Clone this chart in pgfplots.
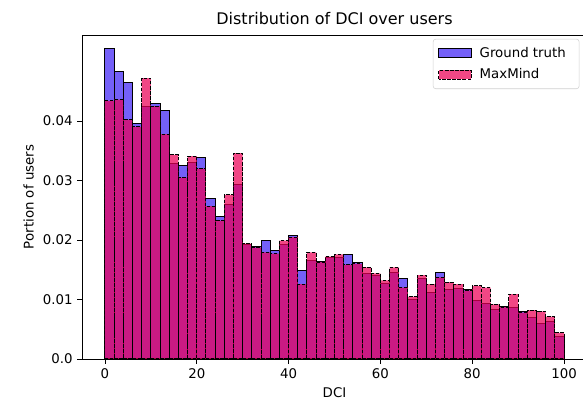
\documentclass[border=0pt]{standalone}
\usepackage{pgfplots}
\pgfplotsset{compat=1.18}
\usepackage{pgfplotstable}
\usepackage{fontspec}
\setmainfont{DejaVu Sans}
\usetikzlibrary{calc}

\definecolor{gtblue}{RGB}{116,96,248}
\definecolor{mmred}{RGB}{236,0,86}

% share of users per DCI bin (bin width 2), last row only closes the interval
\pgfplotstableread{
x   gt     mm
0   0.0522 0.0434
2   0.0484 0.0436
4   0.0464 0.0402
6   0.0395 0.0390
8   0.0424 0.0472
10  0.0430 0.0425
12  0.0418 0.0378
14  0.0328 0.0343
16  0.0326 0.0305
18  0.0331 0.0341
20  0.0338 0.0320
22  0.0270 0.0257
24  0.0239 0.0232
26  0.0260 0.0276
28  0.0293 0.0346
30  0.0192 0.0194
32  0.0189 0.0187
34  0.0199 0.0179
36  0.0183 0.0177
38  0.0192 0.0199
40  0.0207 0.0205
42  0.0148 0.0126
44  0.0165 0.0179
46  0.0164 0.0163
48  0.0170 0.0172
50  0.0170 0.0176
52  0.0176 0.0158
54  0.0162 0.0160
56  0.0144 0.0154
58  0.0140 0.0144
60  0.0127 0.0132
62  0.0145 0.0154
64  0.0136 0.0120
66  0.0100 0.0105
68  0.0135 0.0141
70  0.0111 0.0126
72  0.0146 0.0137
74  0.0117 0.0129
76  0.0119 0.0126
78  0.0116 0.0115
80  0.0098 0.0123
82  0.0094 0.0120
84  0.0084 0.0092
86  0.0088 0.0087
88  0.0086 0.0109
90  0.0079 0.0078
92  0.0069 0.0082
94  0.0059 0.0080
96  0.0063 0.0071
98  0.0037 0.0044
100 0.0037 0.0044
}\dci

\begin{document}
\begin{tikzpicture}
\begin{axis}[
    scale only axis,
    width=378.75pt, height=243pt,
    xmin=-5, xmax=105,
    ymin=0, ymax=0.05445,
    xtick={0,20,40,60,80,100},
    ytick={0,0.01,0.02,0.03,0.04},
    yticklabels={0.0,0.01,0.02,0.03,0.04},
    scaled y ticks=false,
    xtick pos=bottom, ytick pos=left,
    tick align=outside,
    major tick length=3.5pt,
    tick style={black, line width=0.6pt},
    axis line style={black, line width=0.6pt},
    /pgf/number format/assume math mode=true,
    tick label style={font=\fontsize{10}{12}\selectfont},
    label style={font=\fontsize{10}{12}\selectfont},
    title style={font=\fontsize{12}{14}\selectfont, yshift=-2pt},
    title={Distribution of DCI over users},
    xlabel={DCI},
    ylabel={Portion of users},
    legend style={at={(0.985,0.988)}, anchor=north east,
        draw=black!18, rounded corners=2pt,
        font=\fontsize{10}{12}\selectfont,
        row sep=3pt, inner xsep=4pt, inner ysep=4pt,
        nodes={inner xsep=6pt}},
    legend cell align=left,
    legend image code/.code={
        \draw[#1, sharp corners] (0cm,-0.12cm) rectangle (0.85cm,0.12cm);
    },
]
\addplot[ybar interval, fill=gtblue, draw=black, line width=0.75pt]
    table[x=x, y=gt] {\dci};
\addlegendentry{Ground truth}
\addplot[ybar interval, fill=mmred, fill opacity=0.72, draw=black,
    line width=0.75pt, dash pattern=on 2.6pt off 1.2pt]
    table[x=x, y=mm] {\dci};
\addlegendentry{MaxMind}
\end{axis}
\pgfresetboundingbox
\path[use as bounding box]
    ($(current axis.south west)+(-61.5pt,-36pt)$)
    rectangle ($(current axis.north east)+(-3pt,26.25pt)$);
\end{tikzpicture}
\end{document}
